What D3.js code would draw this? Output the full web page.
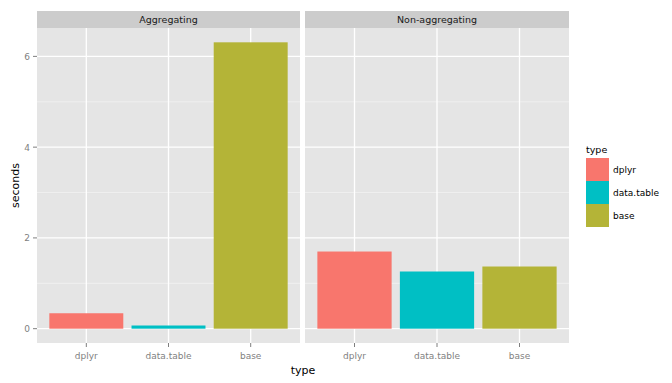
<!DOCTYPE html>
<html>
<head>
<meta charset="utf-8">
<script src="https://cdn.jsdelivr.net/npm/d3@7"></script>
<style>
  body { margin: 0; background: #fff; }
  svg text { font-family: "DejaVu Sans", sans-serif; }
</style>
</head>
<body>
<svg id="chart" width="672" height="383"></svg>
<script>
// data
const panels = ["Aggregating", "Non-aggregating"];
const types = ["dplyr", "data.table", "base"];
const aggValues = [0.34, 0.07, 6.31];
const nonAggValues = [1.70, 1.26, 1.37];
const yTicks = [0, 2, 4, 6];
const yMinor = [1, 3, 5];
const colors = ["#F8766D", "#00BFC4", "#B4B437"];

const svg = d3.select("#chart");
const width = 672;
const height = 383;

const panelTop = 28;
const panelBottom = 343;
const stripTop = 11;
const panelX = [[37, 300], [305, 569]];

const yMax = d3.max(aggValues.concat(nonAggValues));
const pad = yMax * 0.05;
const y = d3.scaleLinear()
  .domain([-pad, yMax + pad])
  .range([panelBottom, panelTop]);

const color = d3.scaleOrdinal().domain(types).range(colors);

const values = [aggValues, nonAggValues];

panels.forEach((name, p) => {
  const [x0, x1] = panelX[p];
  // discrete scale with 0.6 unit expansion each side
  const x = d3.scalePoint().domain(types).range([x0, x1]).padding(0.6);
  const step = x.step();
  const g = svg.append("g");

  g.append("rect")
    .attr("x", x0).attr("y", panelTop)
    .attr("width", x1 - x0).attr("height", panelBottom - panelTop)
    .attr("fill", "#e5e5e5");

  // strip
  g.append("rect")
    .attr("x", x0).attr("y", stripTop)
    .attr("width", x1 - x0).attr("height", panelTop - stripTop)
    .attr("fill", "#cccccc");
  g.append("text")
    .attr("x", (x0 + x1) / 2).attr("y", (stripTop + panelTop) / 2 + 3.5)
    .attr("text-anchor", "middle")
    .attr("font-size", 9.5)
    .attr("fill", "#1a1a1a")
    .text(name);

  // grid
  g.selectAll(".minor").data(yMinor).enter().append("line")
    .attr("x1", x0).attr("x2", x1)
    .attr("y1", d => y(d)).attr("y2", d => y(d))
    .attr("stroke", "#f2f2f2").attr("stroke-width", 0.8);
  g.selectAll(".major").data(yTicks).enter().append("line")
    .attr("x1", x0).attr("x2", x1)
    .attr("y1", d => y(d)).attr("y2", d => y(d))
    .attr("stroke", "#ffffff").attr("stroke-width", 1.3);
  g.selectAll(".vgrid").data(types).enter().append("line")
    .attr("x1", d => x(d)).attr("x2", d => x(d))
    .attr("y1", panelTop).attr("y2", panelBottom)
    .attr("stroke", "#ffffff").attr("stroke-width", 1.3);

  // bars
  g.selectAll(".bar").data(types).enter().append("rect")
    .attr("x", d => x(d) - step * 0.45)
    .attr("width", step * 0.9)
    .attr("y", (d, i) => y(values[p][i]))
    .attr("height", (d, i) => y(0) - y(values[p][i]))
    .attr("fill", d => color(d));

  // x axis ticks + labels
  g.selectAll(".xt").data(types).enter().append("line")
    .attr("x1", d => x(d)).attr("x2", d => x(d))
    .attr("y1", panelBottom).attr("y2", panelBottom + 4)
    .attr("stroke", "#7f7f7f");
  g.selectAll(".xl").data(types).enter().append("text")
    .attr("x", d => x(d)).attr("y", panelBottom + 16)
    .attr("text-anchor", "middle")
    .attr("font-size", 9)
    .attr("fill", "#7f7f7f")
    .text(d => d);
});

// y axis
const yAxis = svg.append("g");
yAxis.selectAll("line").data(yTicks).enter().append("line")
  .attr("x1", 33).attr("x2", 37)
  .attr("y1", d => y(d)).attr("y2", d => y(d))
  .attr("stroke", "#7f7f7f");
yAxis.selectAll("text").data(yTicks).enter().append("text")
  .attr("x", 30).attr("y", d => y(d) + 3.5)
  .attr("text-anchor", "end")
  .attr("font-size", 9)
  .attr("fill", "#7f7f7f")
  .text(d => d);

// axis titles
svg.append("text")
  .attr("x", (panelX[0][0] + panelX[1][1]) / 2).attr("y", 374)
  .attr("text-anchor", "middle")
  .attr("font-size", 11)
  .attr("fill", "#000")
  .text("type");
svg.append("text")
  .attr("transform", `translate(19, ${(panelTop + panelBottom) / 2}) rotate(-90)`)
  .attr("text-anchor", "middle")
  .attr("font-size", 11)
  .attr("fill", "#000")
  .text("seconds");

// legend
const legend = svg.append("g").attr("transform", "translate(586, 0)");
legend.append("text")
  .attr("x", 0).attr("y", 153)
  .attr("font-size", 9.5)
  .attr("fill", "#000")
  .text("type");
const keySize = 23;
legend.selectAll("rect").data(types).enter().append("rect")
  .attr("x", 0).attr("y", (d, i) => 158 + i * keySize)
  .attr("width", keySize).attr("height", keySize)
  .attr("fill", d => color(d));
legend.selectAll(".lab").data(types).enter().append("text")
  .attr("x", keySize + 4).attr("y", (d, i) => 158 + i * keySize + keySize / 2 + 3.5)
  .attr("font-size", 9)
  .attr("fill", "#000")
  .text(d => d);
</script>
</body>
</html>
